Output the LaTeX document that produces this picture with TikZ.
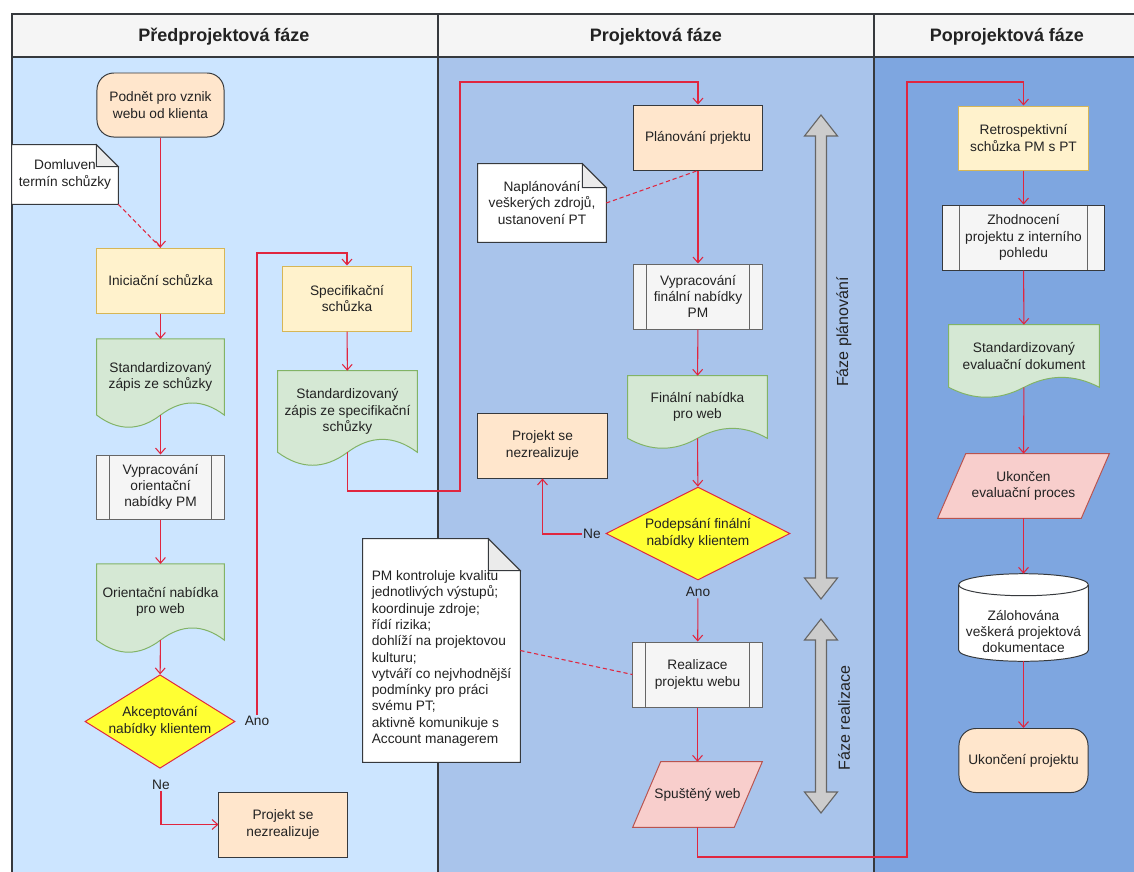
\documentclass[tikz,border=0pt]{standalone}
\usepackage{fontspec}
\setmainfont{Liberation Sans}
\usepackage{xcolor}
\usepackage{tikz}
\tikzset{>=latex}
\usetikzlibrary{
    positioning, % relative placement
    arrows.meta, % arrow tips
    calc, % coordinate calculations
    shapes.geometric % diamond
}
\definecolor{laneA}{HTML}{CCE5FF}
\definecolor{laneB}{HTML}{A9C4EB}
\definecolor{laneC}{HTML}{7EA6E0}
\definecolor{headfill}{HTML}{F5F5F5}
\definecolor{peach}{HTML}{FFE6CC}
\definecolor{cream}{HTML}{FFF2CC}
\definecolor{creamline}{HTML}{D6B656}
\definecolor{mint}{HTML}{D5E8D4}
\definecolor{mintline}{HTML}{82B366}
\definecolor{procfill}{HTML}{F5F5F5}
\definecolor{procline}{HTML}{666666}
\definecolor{rose}{HTML}{F8CECC}
\definecolor{roseline}{HTML}{B85450}
\definecolor{flowred}{HTML}{E0263F}
\definecolor{darkline}{HTML}{36393D}
\definecolor{txt}{HTML}{222222}
\definecolor{phasegray}{HTML}{CCCCCC}
\definecolor{foldgray}{HTML}{EBEBEB}
\definecolor{decyellow}{HTML}{FFFF33}

\pgfdeclarelayer{lanes}
\pgfdeclarelayer{shapes}
\pgfsetlayers{lanes,shapes,main}

\begin{document}
\begin{tikzpicture}[
    x=0.025cm, y=-0.025cm,
    font=\fontsize{9.75}{11.6}\selectfont,
    text=txt,
    flow/.style={
        -{Straight Barb[length=4pt,width=7pt]},
        draw=flowred,
        line width=0.75pt
    },
    remark/.style={
        draw=flowred,
        line width=0.75pt,
        dash pattern=on 3pt off 2pt
    },
    lanebox/.style={
        draw=darkline,
        line width=1pt
    },
    lanehead/.style={
        font=\fontsize{12.8}{15}\selectfont\bfseries
    },
    startend/.style={
        draw=darkline,
        fill=peach,
        rounded corners=12pt,
        align=center,
        line width=0.7pt,
        minimum width=3.225cm,
        minimum height=1.6cm
    },
    meeting/.style={
        draw=creamline,
        fill=cream,
        align=center,
        line width=0.7pt,
        minimum width=3.2cm,
        minimum height=1.625cm
    },
    outcome/.style={
        draw=darkline,
        fill=peach,
        align=center,
        line width=0.7pt,
        minimum width=3.2cm,
        minimum height=1.625cm
    },
    process/.style={
        draw=procline,
        fill=procfill,
        align=center,
        line width=0.7pt,
        minimum width=3.2cm,
        minimum height=1.625cm,
        path picture={
            \draw[procline, line width=0.7pt]
            ($(path picture bounding box.north west)!0.1!(path picture bounding box.north east)$) --
            ($(path picture bounding box.south west)!0.1!(path picture bounding box.south east)$)
            ($(path picture bounding box.north west)!0.9!(path picture bounding box.north east)$) --
            ($(path picture bounding box.south west)!0.9!(path picture bounding box.south east)$);
        }
    },
    docnode/.style={
        align=center,
        minimum width=3.175cm,
        minimum height=1.89cm
    },
    docshape/.style={
        draw=mintline,
        fill=mint,
        line width=0.7pt
    },
    notebox/.style={
        align=center,
        minimum width=3.2cm
    },
    noteshape/.style={
        draw=darkline,
        fill=white,
        line width=0.7pt
    },
    decision/.style={
        diamond,
        draw=flowred,
        fill=decyellow,
        align=center,
        inner sep=0pt,
        line width=0.7pt,
        minimum height=2.325cm
    },
    ionode/.style={
        align=center,
        minimum width=3.225cm,
        minimum height=1.625cm
    },
    ioshape/.style={
        draw=roseline,
        fill=rose,
        line width=0.7pt
    },
    answer/.style={
        inner sep=1pt
    },
    phasearrow/.style={
        draw=procline,
        fill=phasegray,
        line width=0.8pt
    },
    phase/.style={
        rotate=90,
        font=\fontsize{11.4}{13}\selectfont
    }
]
\useasboundingbox (0,0) rectangle (1134,871);

% Lanes
\begin{pgfonlayer}{lanes}
\draw[lanebox, fill=laneA] (12,57) rectangle (438,880);
\draw[lanebox, fill=laneB] (438,57) rectangle (874,880);
\draw[lanebox, fill=laneC] (874,57) rectangle (1145,880);
\draw[lanebox, fill=headfill] (12,14) rectangle (438,57);
\draw[lanebox, fill=headfill] (438,14) rectangle (874,57);
\draw[lanebox, fill=headfill] (874,14) rectangle (1145,57);
\end{pgfonlayer}

\node[lanehead] (headA) at (224,37) {Předprojektová fáze};
\node[lanehead] (headB) at (656,37) {Projektová fáze};
\node[lanehead] (headC) at (1007,37) {Poprojektová fáze};

% Pre-project phase
\node[startend, minimum width=3.175cm] (start) at (160.5,105)
{Podnět pro vznik\\webu od klienta};

\node[notebox, minimum width=2.65cm, minimum height=1.475cm] (note1) at (65,174.5)
{Domluven\\termín schůzky};

\node[meeting, minimum width=3.175cm] (inic) at (160.5,280.5)
{Iniciační schůzka};

\node[docnode] (zapis1) at (160.5,377)
{Standardizovaný\\zápis ze schůzky};

\node[process, minimum width=3.175cm, minimum height=1.6cm] (proc1) at (160.5,487)
{Vypracování\\orientační\\nabídky PM};

\node[docnode] (orient) at (160.5,602)
{Orientační nabídka\\pro web};

\node[decision, minimum width=3.75cm, aspect=1.6] (accept) at (160,721.5)
{Akceptování\\nabídky klientem};

\node[answer] (ano1) at (257,721) {Ano};
\node[answer] (ne1) at (161,785) {Ne};

\node[outcome] (nezr1) at (283,824.5)
{Projekt se\\nezrealizuje};

\node[meeting] (spec) at (347,298.5)
{Specifikační\\schůzka};

\node[docnode, minimum width=3.475cm, minimum height=2.025cm] (zapis2) at (347.5,411.5)
{Standardizovaný\\zápis ze specifikační\\schůzky};

% Project phase
\node[outcome] (plan) at (698,137.5)
{Plánování prjektu};

\node[notebox, minimum height=1.95cm] (note2) at (542,203)
{Naplánování\\veškerých zdrojů,\\ustanovení PT};

\node[process] (proc2) at (698,296.5)
{Vypracování\\finální nabídky\\PM};

\node[docnode, minimum width=3.475cm, minimum height=1.55cm] (finweb) at (697.5,407)
{Finální nabídka\\pro web};

\node[decision, minimum width=4.6cm, aspect=2] (sign) at (698,533.5)
{Podepsání finální\\nabídky klientem};

\node[answer] (ne2) at (592,534) {Ne};
\node[answer] (ano2) at (698,592) {Ano};

\node[outcome, minimum width=3.225cm] (nezr2) at (542.5,445.5)
{Projekt se\\nezrealizuje};

\node[notebox, minimum width=3.925cm, minimum height=5.575cm,
    label={[align=left, text=txt, yshift=-0.2cm]center:{PM kontroluje kvalitu\\
    jednotlivých výstupů;\\
    koordinuje zdroje;\\
    řídí rizika;\\
    dohlíží na projektovou\\
    kulturu;\\
    vytváří co nejvhodnější\\
    podmínky pro práci\\
    svému PT;\\
    aktivně komunikuje s\\
    Account managerem}}] (note3) at (441.5,650.5) {};

\node[process, minimum width=3.225cm] (real) at (697.5,674.5)
{Realizace\\projektu webu};

\node[ionode] (spust) at (697.5,794.5)
{Spuštěný web};

% Phase arrows
\draw[phasearrow] (821,115) -- (837.5,136) -- (826.5,136) -- (826.5,578)
    -- (837.5,578) -- (821,599) -- (804.5,578) -- (815.5,578)
    -- (815.5,136) -- (804.5,136) -- cycle;
\node[phase] (planphase) at (844,332) {Fáze plánování};

\draw[phasearrow] (821,619) -- (837.5,640) -- (826.5,640) -- (826.5,792)
    -- (837.5,792) -- (821,813) -- (804.5,792) -- (815.5,792)
    -- (815.5,640) -- (804.5,640) -- cycle;
\node[phase] (realphase) at (844,718) {Fáze realizace};

% Post-project phase
\node[meeting, minimum width=3.225cm, minimum height=1.6cm] (retro) at (1023.5,138)
{Retrospektivní\\schůzka PM s PT};

\node[process, draw=darkline, minimum width=4.025cm] (zhod) at (1023.5,237.5)
{Zhodnocení\\projektu z interního\\pohledu};

\node[docnode, minimum width=3.75cm, minimum height=1.55cm] (evaldoc) at (1024,356)
{Standardizovaný\\evaluační dokument};

\node[ionode, minimum width=4.275cm, minimum height=1.6cm] (ukoncen) at (1023.5,486)
{Ukončen\\evaluační proces};

\node[minimum width=3.225cm, minimum height=2.175cm,
    label={[align=center, text=txt, yshift=-0.35cm]center:{Zálohována\\veškerá projektová\\dokumentace}}] (zaloh) at (1023.5,617.5) {};

\node[startend] (endn) at (1023.5,760.5)
{Ukončení projektu};

% Shapes behind the texts
\begin{pgfonlayer}{shapes}
\foreach \d in {zapis1,orient,zapis2,finweb,evaldoc}
    \filldraw[docshape] let \p1=(\d.south west), \p2=(\d.north east),
        \n1={\x2-\x1}, \n2={0.2118*(\y2-\y1)} in
        (\p1) -- (\x1,\y2) -- (\p2) -- (\x2,\y1)
        .. controls (\x2-\n1/6,\y1+\n2) and (\x1+2*\n1/3,\y1+\n2) .. (\x1+\n1/2,\y1)
        .. controls (\x1+\n1/3,\y1-\n2) and (\x1+\n1/6,\y1-\n2) .. (\p1) -- cycle;
\foreach \io in {spust,ukoncen}
    \filldraw[ioshape] let \p1=(\io.south west), \p2=(\io.north east) in
        (\p1) -- (\x1+0.7cm,\y2) -- (\p2) -- (\x2-0.7cm,\y1) -- cycle;
\foreach \nt/\f in {note1/0.55cm, note2/0.6cm, note3/0.8cm}{
    \filldraw[noteshape] let \p1=(\nt.south west), \p2=(\nt.north east) in
        (\p1) -- (\x1,\y2) -- (\x2-\f,\y2) -- (\x2,\y2-\f) -- (\x2,\y1) -- cycle;
    \filldraw[noteshape, fill=foldgray] let \p2=(\nt.north east) in
        (\x2-\f,\y2) -- (\x2-\f,\y2-\f) -- (\x2,\y2-\f) -- cycle;
}
\filldraw[noteshape] let \p1=(zaloh.south west), \p2=(zaloh.north east),
    \n1={(\x2-\x1)/2} in
    (\x1,\y2-0.275cm) -- (\x1,\y1+0.275cm)
    arc[start angle=180, end angle=360, x radius=\n1*1pt, y radius=0.275cm]
    -- (\x2,\y2-0.275cm)
    arc[start angle=0, end angle=180, x radius=\n1*1pt, y radius=0.275cm] -- cycle;
\draw[noteshape] let \p1=(zaloh.south west), \p2=(zaloh.north east),
    \n1={(\x2-\x1)/2} in
    (\x1,\y2-0.275cm)
    arc[start angle=180, end angle=360, x radius=\n1*1pt, y radius=0.275cm];
\end{pgfonlayer}

% Connectors
\coordinate (anoup) at (257,253);
\coordinate (specturn) at (460,491);
\coordinate (planturn) at (460,82);
\coordinate (webturn) at (907,857);
\coordinate (retroturn) at (907,82);

\draw[flow] (start) -- (inic);
\draw[remark] (note1.south east) -- (inic.north);
\draw[flow] (inic) -- (zapis1);
\draw[flow] (zapis1) -- (proc1);
\draw[flow] (proc1) -- (orient);
\draw[flow] (orient) -- (accept);
\draw[flow] (ano1) -- (anoup) -| (spec);
\draw[flow] (ne1) |- (nezr1);
\draw[flow] (spec) -- (zapis2);
\draw[flow] (zapis2) |- (specturn) -- (planturn) -| (plan);

\draw[flow] (plan) -- (proc2);
\draw[remark] (note2.east) -- (plan.south);
\draw[flow] (proc2) -- (finweb);
\draw[flow] (finweb) -- (sign);
\draw[flow] (ne2) -| (nezr2);
\draw[flow] (ano2) -- (real);
\draw[remark] (note3.east) -- (real.west);
\draw[flow] (real) -- (spust);
\draw[flow] (spust) |- (webturn) -- (retroturn) -| (retro);

\draw[flow] (retro) -- (zhod);
\draw[flow] (zhod) -- (evaldoc);
\draw[flow] (evaldoc) -- (ukoncen);
\draw[flow] (ukoncen) -- (zaloh);
\draw[flow] (zaloh) -- (endn);

\end{tikzpicture}
\end{document}
